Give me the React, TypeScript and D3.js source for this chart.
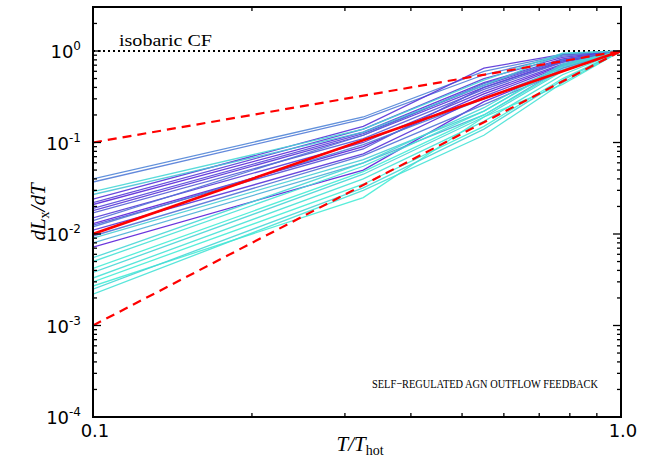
import React from "react";
import * as d3 from "d3";

// temperature bins (T/T_hot)
const tBins = [0.1, 0.325, 0.55, 0.775, 1.0];

// dL_x/dT curves, one per snapshot; shade 0 = cyan, 1 = violet
const curves: number[][] = [
  [0.040, 0.19, 0.60, 0.90, 1],
  [0.037, 0.18, 0.55, 0.88, 1],
  [0.024, 0.15, 0.65, 0.92, 1],
  [0.022, 0.14, 0.50, 0.85, 1],
  [0.021, 0.13, 0.45, 0.82, 1],
  [0.019, 0.125, 0.42, 0.80, 1],
  [0.018, 0.12, 0.40, 0.78, 1],
  [0.017, 0.11, 0.38, 0.75, 1],
  [0.015, 0.10, 0.36, 0.72, 1],
  [0.014, 0.12, 0.44, 0.80, 1],
  [0.013, 0.09, 0.34, 0.70, 1],
  [0.0125, 0.085, 0.40, 0.76, 1],
  [0.012, 0.095, 0.30, 0.65, 1],
  [0.011, 0.075, 0.32, 0.68, 1],
  [0.0072, 0.05, 0.28, 0.62, 1],
  [0.0095, 0.072, 0.26, 0.60, 1],
  [0.029, 0.14, 0.48, 0.95, 1],
  [0.027, 0.13, 0.42, 0.93, 1],
  [0.009, 0.065, 0.22, 0.70, 1],
  [0.008, 0.06, 0.20, 0.65, 1],
  [0.0055, 0.06, 0.24, 0.72, 1],
  [0.005, 0.055, 0.22, 0.68, 1],
  [0.0042, 0.048, 0.20, 0.62, 1],
  [0.0038, 0.045, 0.19, 0.60, 1],
  [0.0033, 0.04, 0.17, 0.55, 1],
  [0.003, 0.035, 0.15, 0.50, 1],
  [0.0027, 0.025, 0.19, 0.43, 1],
  [0.0025, 0.032, 0.14, 0.48, 1],
  [0.0022, 0.03, 0.12, 0.45, 1],
];
const shades = [
  0.5, 0.55, 0.9, 0.85, 0.95, 0.8, 0.9, 0.7, 0.85, 0.6, 1.0, 0.75, 0.55, 0.9, 1.0, 0.6,
  0.1, 0.2, 0.15, 0.3, 0.1, 0.05, 0.0, 0.1, 0.05, 0.0, 0.0, 0.1, 0.05,
];

// power-law reference lines
const refT = [0.1, 1.0];
const slope1 = [0.1, 1];
const slope2 = [0.01, 1];
const slope3 = [0.001, 1];

const yMajor = [1e-4, 1e-3, 1e-2, 1e-1, 1e0];
const yExp = ["-4", "-3", "-2", "-1", "0"];
const xMajor = [0.1, 1.0];
const xLabels = ["0.1", "1.0"];

const W = 656, H = 470;
const L = 93, R = 621, T = 7, B = 417;
const serif = "Liberation Serif";

export default function App() {
  const x = d3.scaleLog().domain([0.1, 1]).range([L, R]);
  const y = d3.scaleLog().domain([1e-4, Math.pow(10, 44 / 91.5)]).range([B, T]);
  const color = d3.interpolateRgb("#45ecd6", "#5a1ed8");
  const line = d3.line<number>().x((_, i) => x(tBins[i])).y(d => y(d));
  const refLine = d3.line<number>().x((_, i) => x(refT[i])).y(d => y(d));

  const xMinor: number[] = [];
  for (let k = 2; k <= 9; k++) xMinor.push(k / 10);
  const yMinor: number[] = [];
  for (let e = -4; e < 1; e++) for (let k = 2; k <= 9; k++) {
    const v = k * Math.pow(10, e);
    if (v < y.domain()[1]) yMinor.push(v);
  }

  return (
    <div style={{ position: "fixed", left: 0, top: 0 }}>
      <svg width={W} height={H} style={{ display: "block", background: "#fff" }}>
        <defs>
          <clipPath id="plot">
            <rect x={L} y={T} width={R - L} height={B - T} />
          </clipPath>
        </defs>
        <g clipPath="url(#plot)">
          <line x1={L} x2={R} y1={y(1)} y2={y(1)} stroke="#000" strokeWidth={2.2} strokeDasharray="2 3" />
          {curves.map((c, i) => (
            <path key={i} d={line(c) || ""} fill="none" stroke={color(shades[i])} strokeWidth={1.3} opacity={0.9} />
          ))}
          <path d={refLine(slope2) || ""} fill="none" stroke="#ff0000" strokeWidth={2.6} />
          <path d={refLine(slope1) || ""} fill="none" stroke="#ff0000" strokeWidth={2.2} strokeDasharray="9 6" />
          <path d={refLine(slope3) || ""} fill="none" stroke="#ff0000" strokeWidth={2.2} strokeDasharray="9 6" />
        </g>
        <g stroke="#000" strokeWidth={1.3}>
          {xMinor.map(v => (
            <g key={"xm" + v}>
              <line x1={x(v)} x2={x(v)} y1={B} y2={B - 4} />
              <line x1={x(v)} x2={x(v)} y1={T} y2={T + 4} />
            </g>
          ))}
          {xMajor.map(v => (
            <g key={"xM" + v}>
              <line x1={x(v)} x2={x(v)} y1={B} y2={B - 8} />
              <line x1={x(v)} x2={x(v)} y1={T} y2={T + 8} />
            </g>
          ))}
          {yMinor.map(v => (
            <g key={"ym" + v}>
              <line x1={L} x2={L + 4} y1={y(v)} y2={y(v)} />
              <line x1={R} x2={R - 4} y1={y(v)} y2={y(v)} />
            </g>
          ))}
          {yMajor.map(v => (
            <g key={"yM" + v}>
              <line x1={L} x2={L + 8} y1={y(v)} y2={y(v)} />
              <line x1={R} x2={R - 8} y1={y(v)} y2={y(v)} />
            </g>
          ))}
        </g>
        <rect x={L} y={T} width={R - L} height={B - T} fill="none" stroke="#000" strokeWidth={2} />
        <g fontFamily="DejaVu Sans" fontSize={18} fill="#000">
          {yMajor.map((v, i) => (
            <text key={"yl" + v} x={L - 12} y={y(v) + 7} textAnchor="end">
              10<tspan fontSize={12} dy={-8}>{yExp[i]}</tspan>
            </text>
          ))}
          {xMajor.map((v, i) => (
            <text key={"xl" + v} x={x(v) + 2} y={B + 20} textAnchor="middle">{xLabels[i]}</text>
          ))}
        </g>
        <g fontFamily={serif} fill="#000">
          <text x={119} y={46} fontSize={17} textLength={93} lengthAdjust="spacingAndGlyphs">isobaric CF</text>
          <text x={372} y={388} fontSize={13} textLength={226} lengthAdjust="spacingAndGlyphs">SELF−REGULATED AGN OUTFLOW FEEDBACK</text>
          <text x={360} y={451} fontSize={21} textAnchor="middle" fontStyle="italic">
            T/T<tspan fontSize={14} dy={4} fontStyle="normal">hot</tspan>
          </text>
          <text transform={`translate(45,212) rotate(-90)`} fontSize={21} textAnchor="middle" fontStyle="italic">
            dL<tspan fontSize={14} dy={4} fontStyle="normal">x</tspan><tspan dy={-4}>/dT</tspan>
          </text>
        </g>
      </svg>
    </div>
  );
}
